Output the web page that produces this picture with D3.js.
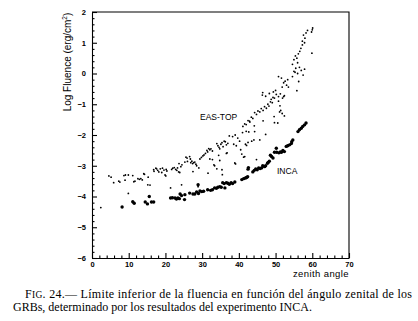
<!DOCTYPE html>
<html>
<head>
<meta charset="utf-8">
<script src="https://cdn.jsdelivr.net/npm/d3@7"></script>
<style>
  body { margin: 0; background: #fff; }
  svg { display: block; }
  .axis path, .axis line { stroke: #000; stroke-width: 1.1; }
  .axis text { font-family: "Liberation Sans", Arial, sans-serif; font-size: 7.5px; font-weight: bold; fill: #000; }
</style>
</head>
<body>
<svg id="chart"></svg>
<script>
// zenith angle vs log fluence
var easTop = [
  [2.4,-4.36],[4.6,-3.33],[5.2,-3.37],[5.9,-3.55],[7.3,-3.5],[7.6,-3.53],[8.7,-3.32],[9.1,-3.3],
  [9.9,-3.3],[9.0,-3.47],[11.1,-3.32],[11.4,-3.52],[11.7,-3.5],[9.9,-3.9],
  [12.5,-3.42],[12.9,-3.44],[13.3,-3.42],[14.1,-3.26],[14.3,-3.28],[13.7,-3.46],[15.2,-3.62],[15.8,-3.63],[15.3,-3.37],
  [16.8,-3.13],[16.9,-3.18],[17.4,-3.08],[17.6,-3.1],[17.9,-3.15],[18.2,-3.2],[18.6,-3.1],[19.0,-3.22],[19.2,-3.08],
  [19.6,-3.14],[19.9,-3.3],[20.2,-3.12],[20.4,-3.17],[20.1,-3.33],
  [21.4,-3.72],[21.7,-3.12],[22.0,-3.08],[22.4,-3.06],[22.8,-3.12],[23.1,-3.15],[23.3,-3.07],[23.6,-3.2],[23.9,-3.22],
  [23.7,-2.93],[24.2,-3.03],[24.5,-2.97],[24.4,-3.62],
  [25.3,-2.88],[25.6,-2.72],[25.9,-2.75],[26.0,-2.86],[26.6,-2.7],[26.8,-2.78],[26.9,-2.9],[27.2,-2.85],[27.4,-2.93],
  [27.5,-3.19],[27.7,-2.9],[28.0,-2.88],[28.3,-2.95],[28.5,-3.0],[28.9,-3.68],[29.1,-3.07],
  [29.4,-2.78],[29.8,-2.73],[30.2,-2.68],[30.5,-2.65],[30.9,-2.6],[31.3,-2.5],[31.5,-2.55],[31.8,-2.44],[32.1,-2.48],
  [32.4,-2.45],[32.8,-2.52],[32.1,-2.78],[32.8,-2.8],[31.6,-3.24],[33.2,-2.97],[33.4,-3.0],
  [34.0,-2.28],[34.3,-2.35],[34.6,-2.4],[34.8,-2.45],[35.1,-2.3],[35.4,-2.25],[35.7,-2.38],[36.0,-2.2],[36.3,-2.22],
  [36.6,-2.32],[37.0,-2.27],[34.5,-2.66],[34.8,-2.83],[34.0,-3.1],[35.5,-3.29],[35.4,-3.13],[36.8,-2.58],[36.6,-2.6],
  [37.4,-2.03],[38.3,-2.05],[38.6,-2.3],[39.0,-2.0],[39.3,-2.35],[39.7,-2.1],[40.2,-2.2],[40.5,-2.48],[40.8,-2.62],
  [39.1,-2.94],[38.9,-2.91],
  [41.0,-1.92],[41.6,-2.7],[41.3,-2.72],[41.8,-2.3],[42.1,-2.34],[42.0,-1.88],[42.5,-2.24],[42.7,-1.9],[43.5,-2.2],
  [44.1,-2.16],[44.3,-1.89],[44.8,-2.8],[44.2,-1.7],[43.0,-1.58],
  [41.1,-1.72],[41.6,-1.64],[42.0,-1.66],[42.5,-1.53],[42.9,-1.55],[43.4,-1.42],[43.8,-1.46],[44.3,-1.27],[44.8,-1.33],
  [45.2,-1.22],[45.7,-1.25],[46.1,-1.14],[46.6,-1.2],[47.0,-1.08],[47.5,-1.13],[47.9,-1.0],[48.2,-1.06],[48.6,-0.92],
  [49.1,-0.95],[48.8,-0.84],[49.3,-0.78],[49.7,-0.8],[50.2,-0.68],
  [46.4,-0.7],[50.8,-0.9],[51.2,-1.05],[51.4,-1.2],[49.6,-1.4],[46.6,-1.54],[45.7,-2.16],[47.3,-1.98],[50.6,-1.61],
  [49.7,-1.6],[51.1,-1.25],[51.8,-1.3],[52.4,-1.38],
  [46.5,-0.62],[47.3,-0.74],[48.3,-0.65],[49.4,-0.6],[50.0,-0.55],[50.8,-0.75],[51.3,-0.66],[51.9,-0.8],[52.4,-0.72],
  [50.8,-0.1],[51.6,-0.15],[51.8,-0.44],[52.2,-0.3],[52.6,-0.25],[53.0,-0.38],[53.3,-0.2],[53.5,-0.44],[52.2,-0.75],
  [55.3,0.04],[55.8,-0.56],[56.3,-0.26],
  [54.6,-0.1],[55.0,0.07],[55.5,0.17],[56.0,0.0],[56.5,0.2],[57.0,0.1],[57.5,-0.05],[57.9,0.14],
  [54.6,0.3],[55.0,0.45],[55.4,0.57],[55.8,0.5],[56.2,0.64],[56.6,0.72],[56.9,0.82],[57.3,0.93],[56.0,0.35],
  [57.3,1.05],[57.6,1.25],[58.0,1.15],[58.3,1.32],[58.7,1.4],[57.9,1.0],
  [59.8,1.35],[60.0,1.42],[60.1,1.48],[59.9,0.66]
];

var inca = [
  [8.2,-4.34],[11.1,-4.17],[11.5,-4.22],[14.5,-4.18],[15.1,-4.24],[15.6,-4.0],[16.2,-4.18],[16.8,-4.18],
  [21.4,-4.05],[21.9,-4.04],[22.6,-4.05],[23.0,-4.08],[23.4,-4.05],[23.8,-4.07],[24.0,-3.92],[24.4,-3.97],[25.2,-4.1],[25.3,-3.94],
  [26.6,-3.89],[27.5,-3.92],[28.0,-3.92],[28.5,-3.85],[28.9,-3.62],[29.0,-3.9],[29.4,-3.82],[29.9,-3.84],[30.4,-3.83],
  [31.5,-3.78],[32.3,-3.8],[32.8,-3.78],[33.4,-3.72],[33.9,-3.73],[34.3,-3.7],[34.8,-3.68],
  [35.2,-3.7],[35.6,-3.55],[36.0,-3.58],[36.2,-3.72],[36.6,-3.55],[37.0,-3.57],[37.4,-3.6],[37.9,-3.55],[38.3,-3.58],[38.9,-3.53],
  [40.8,-3.45],[41.3,-3.42],[41.8,-3.4],[42.1,-3.38],[42.4,-3.36],[42.5,-3.11],[42.6,-3.06],
  [43.8,-3.2],[44.2,-3.15],[44.6,-3.1],[45.0,-3.13],[45.4,-3.07],[45.8,-3.09],[46.2,-3.07],[46.5,-3.0],[47.0,-3.03],
  [47.3,-3.0],[47.8,-2.92],
  [48.0,-2.89],[48.3,-2.85],[48.6,-2.66],[48.9,-2.7],[49.3,-2.75],[49.7,-2.56],[50.2,-2.43],[50.3,-2.56],[50.9,-2.58],
  [51.3,-2.55],[51.6,-2.56],[52.0,-2.5],[52.4,-2.54],
  [52.9,-2.37],[53.3,-2.35],[53.8,-2.32],[54.3,-2.28],[54.4,-2.22],[54.7,-2.16],
  [56.1,-1.89],[56.5,-1.83],[57.0,-1.78],[57.4,-1.72],[57.9,-1.67],[58.3,-1.61]
];

var xMajor = [0, 10, 20, 30, 40, 50, 60, 70];
var yMajor = [-6, -5, -4, -3, -2, -1, 0, 1, 2];

var W = 418, H = 321;
var svg = d3.select("#chart").attr("width", W).attr("height", H);

var x = d3.scaleLinear().domain([0, 70]).range([92, 349]);
var y = d3.scaleLinear().domain([-6, 2]).range([258, 12]);

var xMinor = d3.range(0, 70.01, 2).filter(function(v) { return v % 10 !== 0; });
var yMinor = d3.range(-6, 2.01, 0.2).filter(function(v) { return Math.abs(v - Math.round(v)) > 0.01; });

// minor ticks
svg.append("g").attr("class", "axis")
  .attr("transform", "translate(0," + y(-6) + ")")
  .call(d3.axisBottom(x).tickValues(xMinor).tickSize(-2.5).tickFormat(""))
  .select(".domain").remove();
svg.append("g").attr("class", "axis")
  .attr("transform", "translate(" + x(0) + ",0)")
  .call(d3.axisLeft(y).tickValues(yMinor).tickSize(-2.5).tickFormat(""))
  .select(".domain").remove();

// major ticks + labels
var xAx = svg.append("g").attr("class", "axis")
  .attr("transform", "translate(0," + y(-6) + ")")
  .call(d3.axisBottom(x).tickValues(xMajor).tickSizeInner(-5).tickSizeOuter(0).tickPadding(4));
xAx.selectAll("text").attr("y", 4);

var yAx = svg.append("g").attr("class", "axis")
  .attr("transform", "translate(" + x(0) + ",0)")
  .call(d3.axisLeft(y).tickValues(yMajor).tickSizeInner(-5).tickSizeOuter(0).tickPadding(5)
    .tickFormat(function(d) { return d < 0 ? "\u2212" + Math.abs(d) : d; }));
yAx.selectAll("text").attr("x", -6);

// frame top + right
svg.append("path")
  .attr("d", "M" + x(0) + "," + y(2) + "H" + x(70) + "V" + y(-6))
  .attr("fill", "none").attr("stroke", "#000").attr("stroke-width", 1.1);

// points
svg.append("g").selectAll("circle").data(easTop).enter().append("circle")
  .attr("cx", function(d) { return x(d[0]); })
  .attr("cy", function(d) { return y(d[1]); })
  .attr("r", 0.9).attr("fill", "#000");

svg.append("g").selectAll("circle").data(inca).enter().append("circle")
  .attr("cx", function(d) { return x(d[0]); })
  .attr("cy", function(d) { return y(d[1]); })
  .attr("r", 1.7).attr("fill", "#000");

// labels
svg.append("text")
  .attr("transform", "translate(71,62) rotate(-90)")
  .attr("text-anchor", "middle")
  .style("font-family", "Liberation Sans, Arial, sans-serif").style("font-size", "10px")
  .html("Log Fluence (erg/cm<tspan dy='-4' font-size='6.5px'>2</tspan><tspan dy='4'>)</tspan>");

svg.append("text")
  .attr("x", 349).attr("y", 277).attr("text-anchor", "end")
  .style("font-family", "Liberation Sans, Arial, sans-serif").style("font-size", "9.5px")
  .style("letter-spacing", "0.4px")
  .text("zenith angle");

svg.append("text")
  .attr("x", 200).attr("y", 119.5)
  .style("font-family", "Liberation Sans, Arial, sans-serif").style("font-size", "8.5px")
  .text("EAS-TOP");

svg.append("text")
  .attr("x", 277).attr("y", 173.5)
  .style("font-family", "Liberation Sans, Arial, sans-serif").style("font-size", "8.5px")
  .text("INCA");

// caption
var cap = svg.append("g")
  .style("font-family", "Liberation Serif, Times New Roman, serif").style("font-size", "12px");
cap.append("text").attr("x", 25).attr("y", 298).attr("textLength", 387)
  .html("F<tspan font-size='9.5px'>IG</tspan>. 24.\u2014 L\u00edmite inferior de la fluencia en funci\u00f3n del \u00e1ngulo zenital de los");
cap.append("text").attr("x", 13).attr("y", 311)
  .text("GRBs, determinado por los resultados del experimento INCA.");
</script>
</body>
</html>
